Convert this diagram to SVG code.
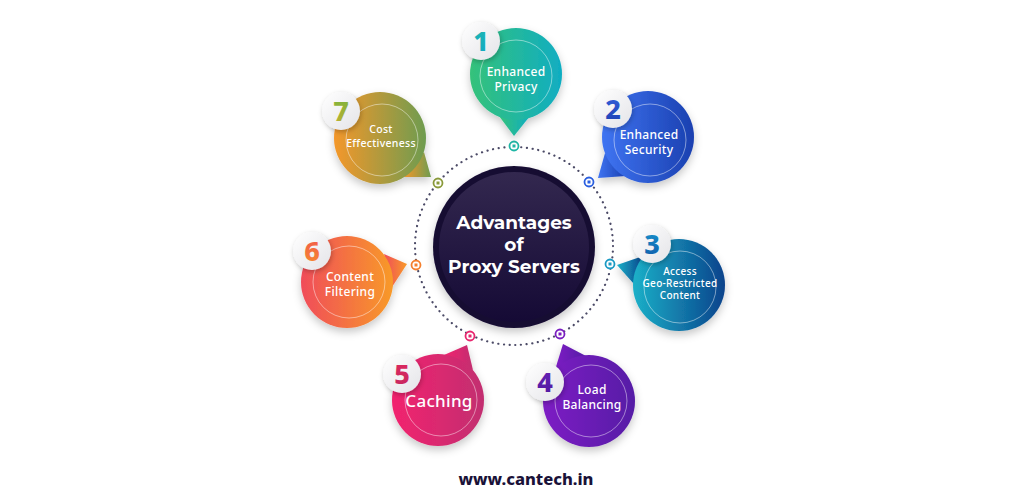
<svg xmlns="http://www.w3.org/2000/svg" width="1024" height="498" viewBox="0 0 1024 498">
<defs>
<filter id="sh" x="-30%" y="-30%" width="160%" height="160%"><feDropShadow dx="0" dy="4" stdDeviation="4" flood-color="#000" flood-opacity="0.22"/></filter>
<filter id="bsh" x="-40%" y="-40%" width="180%" height="180%"><feDropShadow dx="1" dy="2" stdDeviation="2.5" flood-color="#000" flood-opacity="0.25"/></filter>
<linearGradient id="g1" x1="0" y1="0" x2="1" y2="0"><stop offset="0" stop-color="#35c27a"/><stop offset="1" stop-color="#10adc2"/></linearGradient>
<linearGradient id="g2" x1="0" y1="0" x2="1" y2="0"><stop offset="0" stop-color="#3f74f2"/><stop offset="1" stop-color="#1a40b0"/></linearGradient>
<linearGradient id="g3" x1="0" y1="0" x2="1" y2="0"><stop offset="0" stop-color="#1bb0c8"/><stop offset="1" stop-color="#0a438c"/></linearGradient>
<linearGradient id="g4" x1="0" y1="0" x2="1" y2="0"><stop offset="0" stop-color="#7d1ec4"/><stop offset="1" stop-color="#561aa6"/></linearGradient>
<linearGradient id="g5" x1="0" y1="0" x2="1" y2="0"><stop offset="0" stop-color="#f2236e"/><stop offset="1" stop-color="#c22f70"/></linearGradient>
<linearGradient id="g6" x1="0" y1="0" x2="1" y2="0"><stop offset="0" stop-color="#f04c5a"/><stop offset="1" stop-color="#f89a28"/></linearGradient>
<linearGradient id="g7" x1="0" y1="0" x2="1" y2="0"><stop offset="0" stop-color="#f4972a"/><stop offset="1" stop-color="#6e9c50"/></linearGradient>
<linearGradient id="n1" x1="0" y1="0" x2="0" y2="1"><stop offset="0" stop-color="#20b8b0"/><stop offset="1" stop-color="#10a8c4"/></linearGradient>
<linearGradient id="n2" x1="0" y1="0" x2="0" y2="1"><stop offset="0" stop-color="#3564e0"/><stop offset="1" stop-color="#1d3fb0"/></linearGradient>
<linearGradient id="n3" x1="0" y1="0" x2="0" y2="1"><stop offset="0" stop-color="#1a9bd0"/><stop offset="1" stop-color="#0d56a8"/></linearGradient>
<linearGradient id="n4" x1="0" y1="0" x2="0" y2="1"><stop offset="0" stop-color="#6a22b8"/><stop offset="1" stop-color="#4e1a9e"/></linearGradient>
<linearGradient id="n5" x1="0" y1="0" x2="0" y2="1"><stop offset="0" stop-color="#e0285e"/><stop offset="1" stop-color="#c42860"/></linearGradient>
<linearGradient id="n6" x1="0" y1="0" x2="0" y2="1"><stop offset="0" stop-color="#f05050"/><stop offset="1" stop-color="#f7902c"/></linearGradient>
<linearGradient id="n7" x1="0" y1="0" x2="0" y2="1"><stop offset="0" stop-color="#6fb43e"/><stop offset="1" stop-color="#c8b030"/></linearGradient>
<linearGradient id="badge" x1="0" y1="0" x2="1" y2="1"><stop offset="0" stop-color="#ffffff"/><stop offset="1" stop-color="#e4e4e8"/></linearGradient>
<linearGradient id="core" x1="0" y1="0" x2="0" y2="1"><stop offset="0" stop-color="#33284f"/><stop offset="1" stop-color="#150a35"/></linearGradient>
<style>
.ring{fill:none;stroke:#fff;stroke-opacity:0.45;stroke-width:1}
.lbl{font-family:"Noto Sans","Open Sans",sans-serif;font-weight:500;fill:#fff;text-anchor:middle;letter-spacing:0.3px}
.num{font-family:"Noto Sans","Open Sans",sans-serif;font-weight:800;font-size:27px;text-anchor:middle}
.mk{fill:#fff;stroke-width:1.8}
.ctr{font-family:Montserrat,"Noto Sans",sans-serif;font-weight:700;font-size:18.5px;fill:#fff;text-anchor:middle}
</style>
</defs>
<rect width="1024" height="498" fill="#fff"/>

<g id="connectors">
<circle cx="514" cy="246" r="99" fill="none" stroke="#4b4a66" stroke-width="2.2" stroke-linecap="round" stroke-dasharray="0.1 5.6"/>
</g>

<g id="center">
<circle cx="514" cy="247" r="81" fill="#150a32" filter="url(#sh)"/>
<circle cx="514" cy="247" r="75" fill="url(#core)"/>
<text class="ctr" x="514" y="229">Advantages</text>
<text class="ctr" x="514" y="251">of</text>
<text class="ctr" x="514" y="273">Proxy Servers</text>
</g>

<g id="markers">
<circle class="mk" cx="514" cy="146" r="4.5" stroke="#1fb6a5"/><rect x="512.5" y="144.5" width="3" height="3" fill="#1fb6a5"/>
<circle class="mk" cx="589" cy="182" r="4.5" stroke="#2a5fe0"/><rect x="587.5" y="180.5" width="3" height="3" fill="#2a5fe0"/>
<circle class="mk" cx="610" cy="264" r="4.5" stroke="#1a9ac4"/><rect x="608.5" y="262.5" width="3" height="3" fill="#1a9ac4"/>
<circle class="mk" cx="560" cy="334" r="4.5" stroke="#7a1fc0"/><rect x="558.5" y="332.5" width="3" height="3" fill="#7a1fc0"/>
<circle class="mk" cx="470" cy="336" r="4.5" stroke="#e8266e"/><rect x="468.5" y="334.5" width="3" height="3" fill="#e8266e"/>
<circle class="mk" cx="416" cy="265" r="4.5" stroke="#f5802e"/><rect x="414.5" y="263.5" width="3" height="3" fill="#f5802e"/>
<circle class="mk" cx="438" cy="183" r="4.5" stroke="#8a9a3a"/><rect x="436.5" y="181.5" width="3" height="3" fill="#8a9a3a"/>
</g>

<g id="n1">
<g filter="url(#sh)"><polygon points="530,116 499,116 514,136" fill="url(#g1)"/><circle cx="516" cy="74" r="46" fill="url(#g1)"/></g>
<circle class="ring" cx="516" cy="76" r="36"/>
<text class="lbl" x="516" y="76" font-size="12">Enhanced</text>
<text class="lbl" x="516" y="91" font-size="12">Privacy</text>
<circle cx="481" cy="41" r="19" fill="url(#badge)" filter="url(#bsh)"/>
<text class="num" x="481" y="51" fill="url(#n1)">1</text>
</g>

<g id="n2">
<g filter="url(#sh)"><polygon points="626,176 605,153 598,178" fill="url(#g2)"/><circle cx="648" cy="137" r="46" fill="url(#g2)"/></g>
<circle class="ring" cx="650" cy="140" r="36"/>
<text class="lbl" x="649" y="139" font-size="12">Enhanced</text>
<text class="lbl" x="649" y="154" font-size="12">Security</text>
<circle cx="613" cy="109" r="19" fill="url(#badge)" filter="url(#bsh)"/>
<text class="num" x="613" y="119" fill="url(#n2)">2</text>
</g>

<g id="n3">
<g filter="url(#sh)"><polygon points="634,284 643,256 617,265" fill="url(#g3)"/><circle cx="679" cy="285" r="46" fill="url(#g3)"/></g>
<circle class="ring" cx="680" cy="287" r="36"/>
<text class="lbl" x="680" y="275" font-size="10">Access</text>
<text class="lbl" x="680" y="287" font-size="10">Geo-Restricted</text>
<text class="lbl" x="680" y="299" font-size="10">Content</text>
<circle cx="652" cy="244" r="19" fill="url(#badge)" filter="url(#bsh)"/>
<text class="num" x="652" y="254" fill="url(#n3)">3</text>
</g>

<g id="n4">
<g filter="url(#sh)"><polygon points="555,370 586,356 563,344" fill="url(#g4)"/><circle cx="589" cy="401" r="46" fill="url(#g4)"/></g>
<circle class="ring" cx="591" cy="401" r="36"/>
<text class="lbl" x="592" y="394" font-size="12">Load</text>
<text class="lbl" x="592" y="409" font-size="12">Balancing</text>
<circle cx="545" cy="382" r="19" fill="url(#badge)" filter="url(#bsh)"/>
<text class="num" x="545" y="392" fill="url(#n4)">4</text>
</g>

<g id="n5">
<g filter="url(#sh)"><polygon points="473,370 444,355 467,345" fill="url(#g5)"/><circle cx="438" cy="400" r="46" fill="url(#g5)"/></g>
<circle class="ring" cx="441" cy="400" r="36"/>
<text class="lbl" x="439" y="407" font-size="17">Caching</text>
<circle cx="402" cy="374" r="19" fill="url(#badge)" filter="url(#bsh)"/>
<text class="num" x="402" y="384" fill="url(#n5)">5</text>
</g>

<g id="n6">
<g filter="url(#sh)"><polygon points="392,287 384,254 407,264" fill="url(#g6)"/><circle cx="347" cy="282" r="46" fill="url(#g6)"/></g>
<circle class="ring" cx="349" cy="282" r="36"/>
<text class="lbl" x="350" y="281" font-size="12">Content</text>
<text class="lbl" x="350" y="296" font-size="12">Filtering</text>
<circle cx="312" cy="251" r="19" fill="url(#badge)" filter="url(#bsh)"/>
<text class="num" x="312" y="261" fill="url(#n6)">6</text>
</g>

<g id="n7">
<g filter="url(#sh)"><polygon points="424,152 404,177 431,177" fill="url(#g7)"/><circle cx="380" cy="138" r="46" fill="url(#g7)"/></g>
<circle class="ring" cx="382" cy="140" r="36"/>
<text class="lbl" x="381" y="133" font-size="10.5">Cost</text>
<text class="lbl" x="381" y="147" font-size="10.5">Effectiveness</text>
<circle cx="341" cy="111" r="19" fill="url(#badge)" filter="url(#bsh)"/>
<text class="num" x="341" y="121" fill="url(#n7)">7</text>
</g>

<text x="526" y="485" font-family="'Noto Sans',sans-serif" font-weight="800" font-size="16.5" fill="#1a1238" text-anchor="middle">www.cantech.in</text>
</svg>
